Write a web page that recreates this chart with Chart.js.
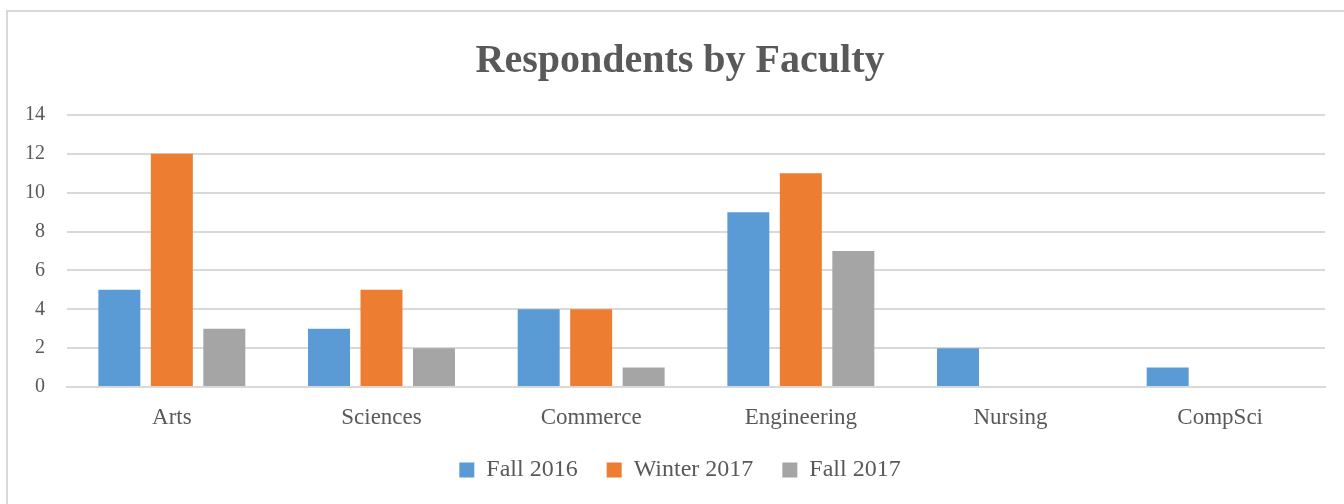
<!DOCTYPE html>
<html><head><meta charset="utf-8">
<script src="https://cdn.jsdelivr.net/npm/chart.js@4/dist/chart.umd.min.js"></script>
<style>
html,body{margin:0;padding:0;background:#fff;overflow:hidden;width:1344px;height:504px;}
#frame{position:absolute;left:6px;top:10px;width:1348px;height:510px;border:2px solid #d9d9d9;box-sizing:border-box;}
#wrap{position:absolute;left:8px;top:12px;width:1344px;height:492px;}
</style></head>
<body>
<div id="frame"></div>
<div id="wrap"><canvas id="c"></canvas></div>
<script>
const categories = ["Arts","Sciences","Commerce","Engineering","Nursing","CompSci"];
const fall2016 = [5,3,4,9,2,1];
const winter2017 = [12,5,4,11,0,0];
const fall2017 = [3,2,1,7,0,0];
const seriesNames = ["Fall 2016","Winter 2017","Fall 2017"];
const FONT = "'Liberation Serif', 'DejaVu Serif', serif";
const TXT = "#595959";
const centerBlocks = {
  id: 'centerBlocks',
  afterLayout(chart) {
    if (chart.titleBlock) { chart.titleBlock.left = 0; chart.titleBlock.right = chart.width; }
    if (chart.legend) { chart.legend.left = 0; chart.legend.right = chart.width; }
  }
};
new Chart(document.getElementById('c'), {
  type: 'bar',
  plugins: [centerBlocks],
  data: {
    labels: categories,
    datasets: [
      {label: seriesNames[0], data: fall2016, backgroundColor: '#5b9bd5'},
      {label: seriesNames[1], data: winter2017, backgroundColor: '#ed7d31'},
      {label: seriesNames[2], data: fall2017, backgroundColor: '#a5a5a5'}
    ]
  },
  options: {
    responsive: true, maintainAspectRatio: false, animation: false,
    categoryPercentage: 0.751, barPercentage: 0.8,
    layout: {padding: {left: 0, right: 27, top: 0, bottom: 12}},
    plugins: {
      title: {display: true, text: 'Respondents by Faculty', color: TXT,
        font: {family: FONT, size: 40, weight: 'bold'}, padding: {top: 26, bottom: 29}},
      legend: {position: 'bottom', labels: {color: TXT, font: {family: FONT, size: 24},
        boxWidth: 15, boxHeight: 15, padding: 29}},
      tooltip: {enabled: false}
    },
    scales: {
      x: {grid: {display: false, drawTicks: false}, border: {display: true, color: '#d9d9d9', width: 2},
        ticks: {color: TXT, font: {family: FONT, size: 23}, padding: 17},
        afterFit: s => { s.height = 42; }},
      y: {min: 0, max: 14, ticks: {stepSize: 2, color: TXT, font: {family: FONT, size: 20}, padding: 22},
        grid: {color: '#d9d9d9', lineWidth: 2, drawTicks: false}, border: {display: false},
        afterFit: s => { s.width = 59; }}
    }
  }
});
</script>
</body></html>
